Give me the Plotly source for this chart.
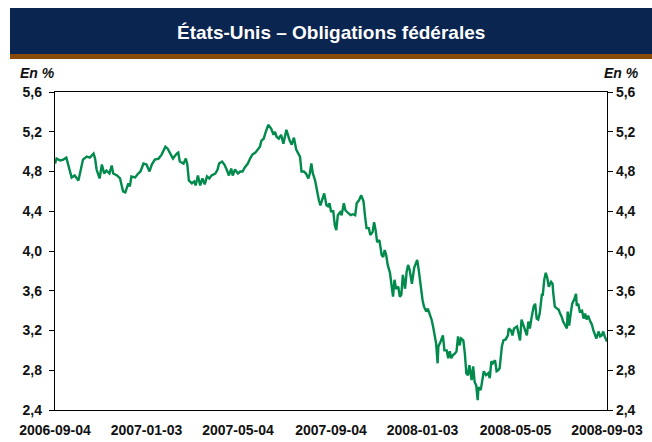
import plotly.graph_objects as go

title_text = "États-Unis – Obligations fédérales"
unit_label = "En %"

dates = [
    "2006-09-04", "2006-09-06", "2006-09-11", "2006-09-15", "2006-09-19", "2006-09-22", "2006-09-26", "2006-09-30",
    "2006-10-05", "2006-10-07", "2006-10-11", "2006-10-16", "2006-10-20", "2006-10-25", "2006-10-27", "2006-10-29",
    "2006-11-02", "2006-11-05", "2006-11-08", "2006-11-11", "2006-11-15", "2006-11-18", "2006-11-20", "2006-11-25",
    "2006-11-29", "2006-12-03", "2006-12-06", "2006-12-10", "2006-12-12", "2006-12-14", "2006-12-19", "2006-12-23",
    "2006-12-26", "2006-12-30", "2007-01-03", "2007-01-07", "2007-01-10", "2007-01-14", "2007-01-19", "2007-01-23",
    "2007-01-28", "2007-01-31", "2007-02-03", "2007-02-07", "2007-02-12", "2007-02-14", "2007-02-16", "2007-02-21",
    "2007-02-24", "2007-02-26", "2007-02-28", "2007-03-04", "2007-03-07", "2007-03-09", "2007-03-12", "2007-03-15",
    "2007-03-18", "2007-03-21", "2007-03-24", "2007-03-27", "2007-03-30", "2007-04-04", "2007-04-07", "2007-04-09",
    "2007-04-13", "2007-04-16", "2007-04-19", "2007-04-22", "2007-04-25", "2007-04-27", "2007-04-30", "2007-05-04",
    "2007-05-07", "2007-05-10", "2007-05-13", "2007-05-17", "2007-05-20", "2007-05-23", "2007-05-27", "2007-05-30",
    "2007-06-02", "2007-06-04", "2007-06-07", "2007-06-09", "2007-06-11", "2007-06-13", "2007-06-17", "2007-06-20",
    "2007-06-22", "2007-06-24", "2007-06-27", "2007-06-30", "2007-07-03", "2007-07-05", "2007-07-07", "2007-07-11",
    "2007-07-14", "2007-07-17", "2007-07-20", "2007-07-25", "2007-07-27", "2007-07-30", "2007-08-02", "2007-08-05",
    "2007-08-07", "2007-08-09", "2007-08-11", "2007-08-14", "2007-08-17", "2007-08-19", "2007-08-21", "2007-08-23",
    "2007-08-26", "2007-08-29", "2007-08-31", "2007-09-02", "2007-09-04", "2007-09-07", "2007-09-09", "2007-09-11",
    "2007-09-13", "2007-09-16", "2007-09-18", "2007-09-21", "2007-09-23", "2007-09-27", "2007-09-30", "2007-10-03",
    "2007-10-06", "2007-10-08", "2007-10-11", "2007-10-14", "2007-10-17", "2007-10-19", "2007-10-21", "2007-10-24",
    "2007-10-26", "2007-10-29", "2007-10-31", "2007-11-02", "2007-11-04", "2007-11-07", "2007-11-10", "2007-11-12",
    "2007-11-14", "2007-11-16", "2007-11-18", "2007-11-21", "2007-11-23", "2007-11-25", "2007-11-27", "2007-11-29",
    "2007-12-02", "2007-12-04", "2007-12-06", "2007-12-08", "2007-12-11", "2007-12-13", "2007-12-15", "2007-12-17",
    "2007-12-20", "2007-12-23", "2007-12-26", "2007-12-27", "2007-12-29", "2007-12-31", "2008-01-03", "2008-01-05",
    "2008-01-08", "2008-01-10", "2008-01-13", "2008-01-15", "2008-01-17", "2008-01-19", "2008-01-21", "2008-01-23",
    "2008-01-24", "2008-01-27", "2008-01-30", "2008-02-01", "2008-02-04", "2008-02-06", "2008-02-08", "2008-02-10",
    "2008-02-12", "2008-02-15", "2008-02-17", "2008-02-19", "2008-02-21", "2008-02-23", "2008-02-26", "2008-02-28",
    "2008-03-01", "2008-03-03", "2008-03-05", "2008-03-08", "2008-03-10", "2008-03-12", "2008-03-14", "2008-03-16",
    "2008-03-17", "2008-03-20", "2008-03-22", "2008-03-24", "2008-03-27", "2008-03-30", "2008-04-01", "2008-04-03",
    "2008-04-05", "2008-04-08", "2008-04-10", "2008-04-12", "2008-04-14", "2008-04-17", "2008-04-19", "2008-04-22",
    "2008-04-25", "2008-04-26", "2008-04-29", "2008-05-01", "2008-05-03", "2008-05-07", "2008-05-09", "2008-05-11",
    "2008-05-13", "2008-05-15", "2008-05-18", "2008-05-20", "2008-05-22", "2008-05-24", "2008-05-26", "2008-05-29",
    "2008-05-31", "2008-06-02", "2008-06-04", "2008-06-06", "2008-06-09", "2008-06-10", "2008-06-12", "2008-06-14",
    "2008-06-16", "2008-06-18", "2008-06-21", "2008-06-23", "2008-06-24", "2008-06-26", "2008-06-29", "2008-07-01",
    "2008-07-03", "2008-07-05", "2008-07-07", "2008-07-10", "2008-07-12", "2008-07-13", "2008-07-15", "2008-07-17",
    "2008-07-19", "2008-07-22", "2008-07-24", "2008-07-25", "2008-07-27", "2008-07-29", "2008-08-01", "2008-08-03",
    "2008-08-05", "2008-08-07", "2008-08-09", "2008-08-12", "2008-08-14", "2008-08-16", "2008-08-18", "2008-08-20",
    "2008-08-23", "2008-08-25", "2008-08-27", "2008-08-29", "2008-08-31", "2008-09-02", "2008-09-03",
]

yields = [
    4.88, 4.93, 4.91, 4.92, 4.94, 4.85, 4.74, 4.76,
    4.71, 4.78, 4.92, 4.95, 4.94, 4.98, 4.93, 4.82,
    4.73, 4.87, 4.78, 4.81, 4.78, 4.86, 4.78, 4.76,
    4.73, 4.60, 4.59, 4.68, 4.65, 4.75, 4.74, 4.78,
    4.80, 4.88, 4.87, 4.80, 4.87, 4.92, 4.93, 4.97,
    5.05, 5.03, 4.98, 4.93, 4.98, 4.99, 4.90, 4.88,
    4.93, 4.87, 4.71, 4.68, 4.70, 4.66, 4.76, 4.66,
    4.73, 4.67, 4.75, 4.73, 4.76, 4.78, 4.82, 4.88,
    4.90, 4.87, 4.82, 4.76, 4.83, 4.76, 4.82, 4.78,
    4.80, 4.80, 4.84, 4.88, 4.93, 4.97, 4.99, 5.02,
    5.05, 5.11, 5.13, 5.18, 5.23, 5.27, 5.23, 5.17,
    5.20, 5.15, 5.13, 5.17, 5.08, 5.15, 5.22, 5.12,
    5.07, 5.14, 5.02, 4.95, 4.80, 4.80, 4.78, 4.73,
    4.78, 4.88, 4.78, 4.71, 4.58, 4.51, 4.46, 4.51,
    4.58, 4.46, 4.45, 4.48, 4.40, 4.40, 4.26, 4.21,
    4.36, 4.39, 4.36, 4.48, 4.41, 4.38, 4.36, 4.37,
    4.36, 4.48, 4.51, 4.56, 4.50, 4.35, 4.23, 4.23,
    4.16, 4.19, 4.29, 4.21, 4.09, 4.11, 3.96, 3.94,
    4.01, 3.96, 3.86, 3.78, 3.68, 3.54, 3.71, 3.62,
    3.64, 3.54, 3.56, 3.76, 3.62, 3.79, 3.86, 3.81,
    3.67, 3.83, 3.89, 3.91, 3.81, 3.67, 3.51, 3.44,
    3.39, 3.42, 3.36, 3.31, 3.24, 3.15, 3.07, 2.87,
    3.04, 3.09, 3.15, 3.00, 3.00, 2.92, 2.99, 2.92,
    2.95, 2.97, 2.99, 3.14, 3.05, 3.12, 3.10, 2.97,
    2.77, 2.75, 2.85, 2.70, 2.84, 2.68, 2.65, 2.50,
    2.63, 2.60, 2.68, 2.79, 2.75, 2.77, 2.72, 2.89,
    2.87, 2.90, 2.79, 2.80, 2.82, 3.04, 3.10, 3.11,
    3.15, 3.22, 3.20, 3.15, 3.22, 3.24, 3.17, 3.10,
    3.31, 3.26, 3.20, 3.15, 3.29, 3.22, 3.32, 3.44,
    3.47, 3.32, 3.31, 3.37, 3.57, 3.55, 3.71, 3.78,
    3.73, 3.64, 3.69, 3.67, 3.57, 3.44, 3.42, 3.41,
    3.37, 3.34, 3.29, 3.24, 3.22, 3.39, 3.25, 3.37,
    3.47, 3.52, 3.57, 3.45, 3.47, 3.39, 3.40, 3.32,
    3.37, 3.31, 3.35, 3.29, 3.26, 3.20, 3.15, 3.12,
    3.19, 3.14, 3.15, 3.19, 3.14, 3.10, 3.09,
]

x_tick_dates = ["2006-09-04", "2007-01-03", "2007-05-04", "2007-09-04",
                "2008-01-03", "2008-05-05", "2008-09-03"]
y_tick_vals = [2.4, 2.8, 3.2, 3.6, 4.0, 4.4, 4.8, 5.2, 5.6]
y_tick_text = ["2,4", "2,8", "3,2", "3,6", "4,0", "4,4", "4,8", "5,2", "5,6"]

NAVY = "#0a2550"
BROWN = "#8a4a0a"
GREEN = "#008a4b"
FONT = "Liberation Sans, Arial, sans-serif"

W, H = 652, 442
L, R, T, B = 55, 45, 92, 32
pw, ph = W - L - R, H - T - B


def px_x(x):
    return (x - L) / pw


def px_y(y):
    return (H - B - y) / ph


fig = go.Figure()
fig.add_trace(go.Scatter(x=dates, y=yields, mode="lines",
                         line=dict(color=GREEN, width=2.4), showlegend=False,
                         hoverinfo="x+y"))
fig.add_trace(go.Scatter(x=dates, y=yields, mode="lines", yaxis="y2",
                         line=dict(color="rgba(0,0,0,0)", width=0),
                         showlegend=False, hoverinfo="skip"))

tickfont = dict(family=FONT, size=14, color="#111111", weight="bold")

fig.update_layout(
    width=W, height=H,
    autosize=False,
    margin=dict(l=L, r=R, t=T, b=B, autoexpand=False),
    paper_bgcolor="white", plot_bgcolor="white",
    xaxis=dict(
        type="date",
        range=[x_tick_dates[0], x_tick_dates[-1]],
        tickvals=x_tick_dates, ticktext=x_tick_dates,
        showgrid=False, zeroline=False,
        showline=True, linecolor="black", linewidth=1.3, mirror=True,
        ticks="outside", ticklen=7, tickcolor="rgba(0,0,0,0)",
        tickfont=tickfont,
    ),
    yaxis=dict(
        range=[2.4, 5.6], tickvals=y_tick_vals, ticktext=y_tick_text,
        showgrid=False, zeroline=False,
        showline=True, linecolor="black", linewidth=1.3,
        ticks="outside", ticklen=5, tickcolor="black",
        ticklabelstandoff=4,
        tickfont=tickfont,
    ),
    yaxis2=dict(
        range=[2.4, 5.6], tickvals=y_tick_vals, ticktext=y_tick_text,
        overlaying="y", side="right",
        showgrid=False, zeroline=False,
        showline=True, linecolor="black", linewidth=1.3,
        ticks="outside", ticklen=5, tickcolor="black",
        tickfont=tickfont,
    ),
    shapes=[
        dict(type="rect", xref="paper", yref="paper",
             x0=px_x(10), x1=px_x(652), y0=px_y(54), y1=px_y(8),
             fillcolor=NAVY, line=dict(width=0), layer="below"),
        dict(type="rect", xref="paper", yref="paper",
             x0=px_x(10), x1=px_x(652), y0=px_y(59), y1=px_y(54),
             fillcolor=BROWN, line=dict(width=0), layer="below"),
    ],
    annotations=[
        dict(text=title_text, xref="paper", yref="paper",
             x=px_x(331), y=px_y(33), xanchor="center", yanchor="middle",
             showarrow=False,
             font=dict(family=FONT, size=19, color="white", weight="bold")),
        dict(text=unit_label, xref="paper", yref="paper",
             x=px_x(18), y=px_y(73), xanchor="left", yanchor="middle",
             showarrow=False,
             font=dict(family=FONT, size=14, color="#111111", weight="bold", style="italic")),
        dict(text=unit_label, xref="paper", yref="paper",
             x=px_x(641), y=px_y(73), xanchor="right", yanchor="middle",
             showarrow=False,
             font=dict(family=FONT, size=14, color="#111111", weight="bold", style="italic")),
    ],
)

fig.write_html("out.html", config={"displayModeBar": False},
               post_script="document.body.style.margin='0';document.body.style.overflow='hidden';")
